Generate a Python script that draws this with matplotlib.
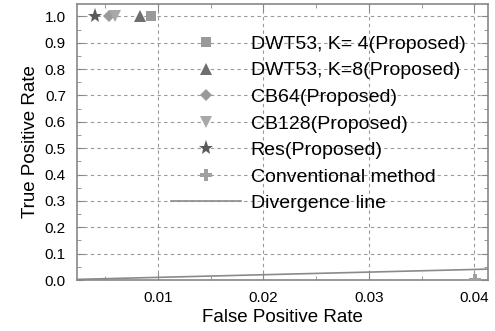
import numpy as np
import matplotlib.pyplot as plt
from matplotlib.ticker import MultipleLocator

plt.rcParams['font.family'] = ['Liberation Sans', 'DejaVu Sans']

# puntos (FPR, TPR)
labels = ["DWT53, K= 4(Proposed)", "DWT53, K=8(Proposed)", "CB64(Proposed)",
          "CB128(Proposed)", "Res(Proposed)", "Conventional method"]
fpr = [0.0093, 0.0083, 0.0053, 0.0059, 0.0040, 0.0401]
tpr = [1.0, 1.0, 1.0, 1.0, 1.0, 0.0]
markers = ["s", "^", "D", "v", "*", "P"]
colors = ["#9a9a9a", "#6e6e6e", "#9a9a9a", "#a8a8a8", "#5a5a5a", "#a0a0a0"]
sizes = [7, 8, 6, 8, 11, 9]
div_x = [0.0, 0.05]
div_y = [0.0, 0.05]

fig = plt.figure(figsize=(4.95, 3.31), dpi=100)
ax = fig.add_axes([77/495, 1 - 280/331, (488 - 77)/495, (280 - 4)/331])

for x, y, m, c, s, l in zip(fpr, tpr, markers, colors, sizes, labels):
    ax.plot([x], [y], m, color=c, markersize=s, markeredgewidth=0, label=l,
            linestyle="none", clip_on=True, zorder=3)
ax.plot(div_x, div_y, color="#8a8a8a", lw=1.2, label="Divergence line")

ax.set_xlim(0.00231, 0.0413)
ax.set_ylim(0, 1.047)
ax.xaxis.set_minor_locator(MultipleLocator(0.005))
ax.yaxis.set_minor_locator(MultipleLocator(0.05))
ax.set_xticks([0.01, 0.02, 0.03, 0.04])
ax.set_xticklabels(["0.01", "0.02", "0.03", "0.04"])
ax.set_yticks(np.arange(0, 1.01, 0.1))
ax.set_yticklabels([f"{v:.1f}" for v in np.arange(0, 1.01, 0.1)])
ax.tick_params(which="both", direction="in", top=True, right=True, color="#888888",
               labelsize=11, pad=8)
ax.tick_params(which="major", length=5)
ax.tick_params(which="minor", length=3)
ax.grid(True, which="major", linestyle=(0, (3, 3)), color="#999999", lw=0.8)
for sp in ax.spines.values():
    sp.set_color("#888888")
    sp.set_linewidth(1.2)

ax.set_xlabel("False Positive Rate", fontsize=13.5, labelpad=3)
ax.set_ylabel("True Positive Rate", fontsize=13.5, labelpad=4)

leg = ax.legend(loc="upper left", bbox_to_anchor=(0.21, 0.915), frameon=False,
                fontsize=14, handlelength=3.6, handletextpad=0.5,
                labelspacing=0.46, borderaxespad=0)

fig.savefig("out.png", dpi=100)
